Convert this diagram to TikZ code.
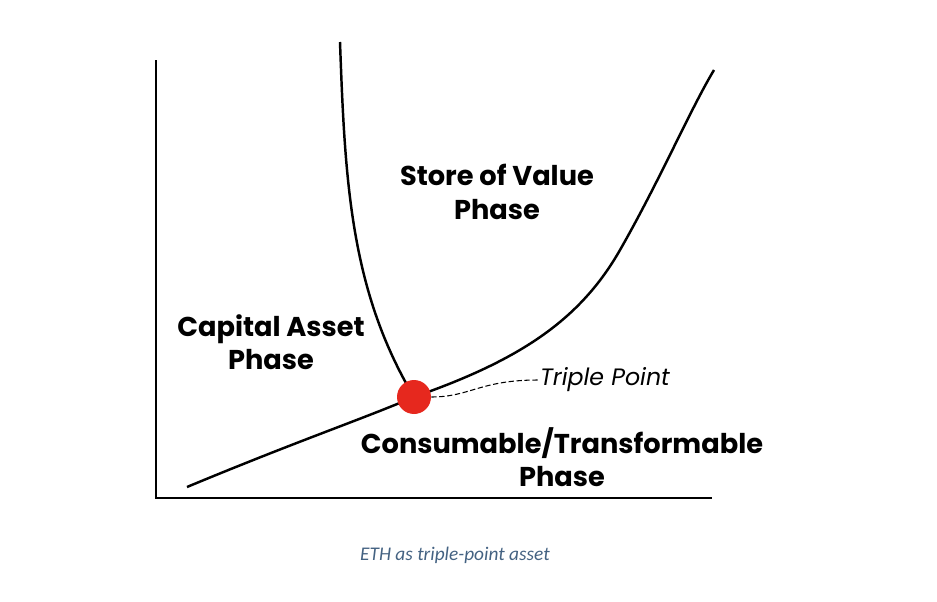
\documentclass[tikz,border=0pt]{standalone}
\usepackage{fontspec}
\setmainfont{Poppins}
\newfontfamily\capfont{Carlito}
\definecolor{capblue}{RGB}{68,98,130}
\definecolor{tpred}{RGB}{230,40,30}
\begin{document}
\begin{tikzpicture}[x=0.02cm,y=-0.02cm]
\tikzstyle{phase} = [align=center, font=\fontsize{15.5}{19}\selectfont\bfseries] % phase label style
\tikzstyle{curve} = [line width=1.4pt] % phase boundary style
\useasboundingbox (0,0) rectangle (937,602);
\coordinate (ytop) at (156,60);
\coordinate (origin) at (156,498);
\coordinate (xend) at (712,498);
\draw[line width=1.3pt] (ytop) -- (origin) -- (xend); % axes
\coordinate (low) at (187,487);
\coordinate (high) at (714,70);
\coordinate (top) at (340,42);
\coordinate (tpc) at (414,397);
\draw[curve] (low) .. controls (300,440) and (360,420) .. (tpc)
  .. controls (520,360) and (580,320) .. (620,250) .. controls (660,180) and (690,110) .. (high);
\draw[curve] (top) .. controls (345,180) and (350,290) .. (tpc);
\node[circle, fill=tpred, minimum width=0.68cm, inner sep=0pt] (tp) at (tpc) {};
\node[font=\fontsize{13.5}{16}\selectfont\itshape, anchor=west, inner sep=1pt] (tplabel) at (538,380) {Triple Point};
\draw[dashed, line width=0.6pt, dash pattern=on 3pt off 1.5pt] (tp.east) .. controls (470,397) and (480,380) .. (tplabel.west);
\node[phase] (sov) at (497,192) {Store of Value\\Phase};
\node[phase] (cap) at (271,342) {Capital Asset\\Phase};
\node[phase] (cons) at (562,457) {Consumable/Transformable\\Phase};
\node[font=\capfont\itshape\fontsize{11}{13}\selectfont, text=capblue] (caption) at (455,555) {ETH as triple-point asset};
\end{tikzpicture}
\end{document}
